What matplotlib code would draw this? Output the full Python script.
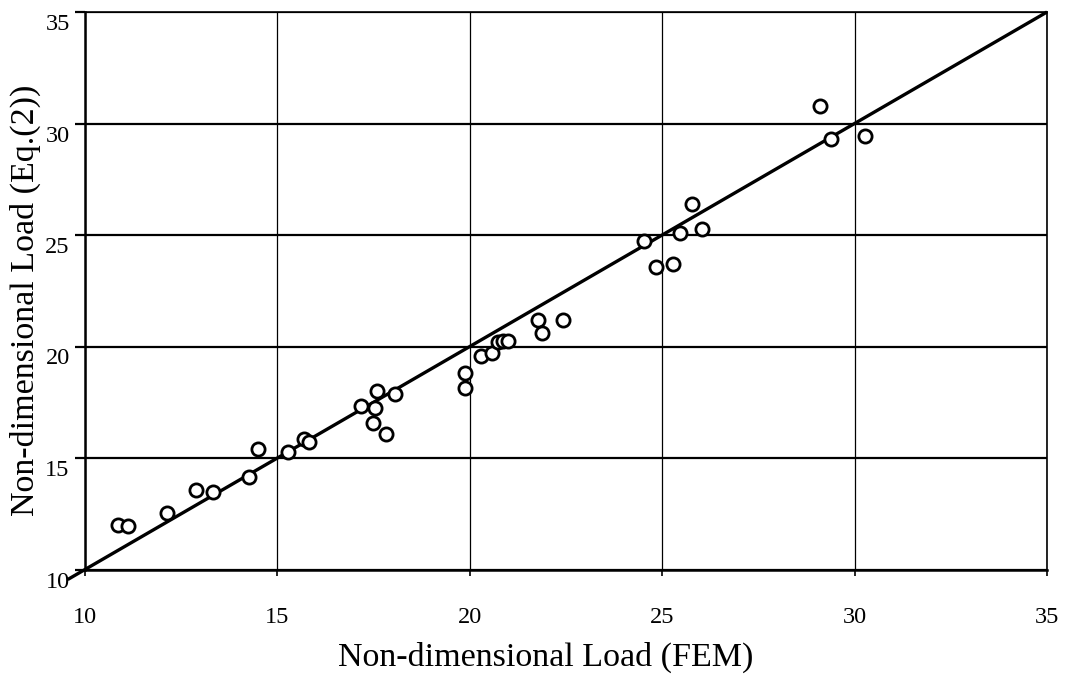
import matplotlib
matplotlib.use("Agg")
import matplotlib.pyplot as plt
import matplotlib.transforms as mtransforms

plt.rcParams['font.family'] = ['Liberation Serif', 'DejaVu Serif']

fem_load = [10.87, 11.11, 12.12, 12.88, 13.33, 14.27, 14.49, 15.27, 15.69, 15.83,
            17.16, 17.54, 17.58, 18.06, 17.49, 17.82, 19.87, 19.87, 20.28, 20.58,
            20.74, 20.87, 21.00, 21.78, 21.88, 22.43, 24.53, 24.83, 25.27, 25.46,
            25.78, 26.04, 29.10, 29.39, 30.27]
eq2_load = [12.00, 11.96, 12.55, 13.56, 13.49, 14.16, 15.39, 15.28, 15.84, 15.73,
            17.35, 17.26, 18.00, 17.86, 16.56, 16.08, 18.80, 18.13, 19.59, 19.69,
            20.22, 20.25, 20.25, 21.19, 20.59, 21.19, 24.73, 23.55, 23.69, 25.10,
            26.39, 25.26, 30.78, 29.30, 29.45]
ref_line = [9.55, 35.0]
ticks = [10, 15, 20, 25, 30, 35]

W, H = 1066, 679
fig = plt.figure(figsize=(W / 100, H / 100), dpi=100)
ax = fig.add_axes([85 / W, (H - 569.5) / H, (1047 - 85) / W, (569.5 - 12) / H])

ax.set_xlim(10, 35)
ax.set_ylim(10, 35)
ax.set_xticks(ticks)
ax.set_yticks(ticks)

# grid: horizontal heavier, vertical thinner
for t in ticks:
    ax.axhline(t, color='black', lw=1.6, zorder=1)
    ax.axvline(t, color='black', lw=0.9, zorder=1)

ax.plot(ref_line, ref_line, color='black', lw=2.4, clip_on=False, zorder=3,
        solid_capstyle='butt')
ax.plot(fem_load, eq2_load, linestyle='none', marker='o', markersize=9.5,
        markerfacecolor='white', markeredgecolor='black', markeredgewidth=2.0,
        zorder=4)

for side in ['left', 'bottom']:
    ax.spines[side].set_linewidth(1.8)
for side in ['top', 'right']:
    ax.spines[side].set_linewidth(1.2)

ax.tick_params(axis='x', direction='out', length=4, width=1.2, pad=23, labelsize=17.5)
ax.tick_params(axis='y', direction='out', length=7, width=1.6, pad=4, labelsize=17.5)

offset = mtransforms.ScaledTranslation(0, -10 / 100, fig.dpi_scale_trans)
for lbl in ax.get_yticklabels():
    lbl.set_transform(lbl.get_transform() + offset)

fig.text(546 / W, 1 - 657 / H, 'Non-dimensional Load (FEM)', ha='center', va='center',
         fontsize=24.5)
fig.text(25 / W, 1 - 300 / H, 'Non-dimensional Load (Eq.(2))', ha='center', va='center',
         rotation=90, fontsize=24.5)

fig.savefig('out.png', dpi=100)
